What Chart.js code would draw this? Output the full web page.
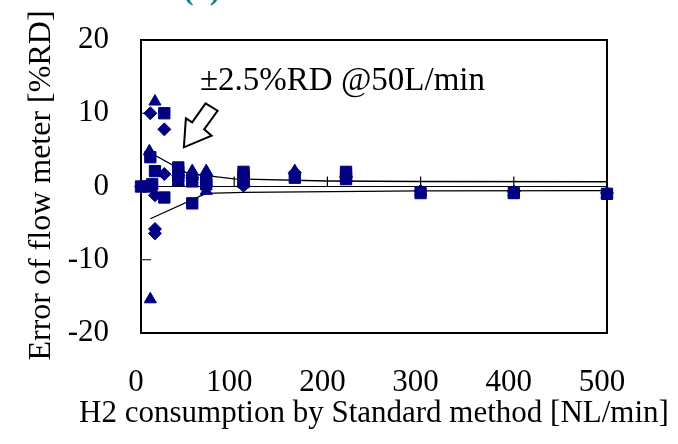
<!DOCTYPE html>
<html>
<head>
<meta charset="utf-8">
<script src="https://cdn.jsdelivr.net/npm/chart.js@4.4.0/dist/chart.umd.min.js"></script>
<style>
  html, body { margin: 0; padding: 0; background: #fff; }
  canvas { display: block; }
</style>
</head>
<body>
<canvas id="errorChart" width="678" height="444"></canvas>
<script>
// Error of flow meter vs. H2 consumption (standard method)

const xTicks = [0, 100, 200, 300, 400, 500];
const yTicks = [-20, -10, 0, 10, 20];

// diamond markers
const diamondX = [0, 10, 25, 25, 15, 15, 15, 40, 55, 70, 70, 110, 165, 220, 300, 400, 500];
const diamondY = [0, 10.0, 7.8, 1.7, -1.2, -5.8, -6.4, 1.5, 1.2, 1.5, 0.0, 0.1, 1.9, 1.3, -0.6, -0.7, -0.9];

// square markers
const squareX = [0, 8, 12, 10, 15, 25, 25, 40, 40, 40, 40, 55, 55, 70, 70, 110, 110, 110, 110, 165, 220, 220, 220, 300, 400, 500];
const squareY = [0, 0, 0.3, 4.0, 2.1, 10.0, -1.5, 2.6, 2.0, 1.4, 0.9, 0.8, -2.3, 0.8, 0.3, 2.0, 1.5, 1.0, 0.6, 1.2, 2.0, 1.5, 1.0, -0.9, -0.9, -1.0];

// triangle markers
const triangleX = [15, 9, 10, 40, 55, 55, 55, 70, 70, 70, 110, 165, 220, 300, 400, 500];
const triangleY = [11.6, 4.8, -15.4, 0.6, 2.1, 1.4, 0.4, 2.1, 1.0, -0.6, 1.0, 2.1, 1.3, -0.7, -0.8, -1.1];

// accuracy envelope
const upperX = [10, 50, 100, 200, 300, 500];
const upperY = [4.6, 1.8, 1.05, 0.75, 0.68, 0.65];
const lowerX = [10, 70, 110, 300, 500];
const lowerY = [-4.4, -0.95, -0.8, -0.6, -0.57];

const navy = '#000080';
const serif = "'Liberation Serif', 'Times New Roman', serif";

function toPoints(xs, ys) {
  return xs.map((x, i) => ({ x: x, y: ys[i] }));
}

function markerSet(xs, ys, style, radius) {
  return {
    data: toPoints(xs, ys),
    pointStyle: style,
    pointRadius: radius,
    backgroundColor: navy,
    borderColor: navy,
    borderWidth: 1,
    showLine: false,
    clip: false,
    order: 0
  };
}

function envelope(xs, ys) {
  return {
    data: toPoints(xs, ys),
    showLine: true,
    borderColor: '#000',
    borderWidth: 1.3,
    pointRadius: 0,
    fill: false,
    tension: 0,
    order: 1
  };
}

const framePlugin = {
  id: 'frame',
  beforeDatasetsDraw(chart) {
    const ctx = chart.ctx;
    const a = chart.chartArea;
    const xs = chart.scales.x, ys = chart.scales.y;
    const y0 = ys.getPixelForValue(0);
    ctx.save();
    ctx.strokeStyle = '#000';
    ctx.lineWidth = 2;
    ctx.strokeRect(a.left, a.top, a.right - a.left, a.bottom - a.top);
    ctx.lineWidth = 1.2;
    ctx.beginPath();
    ctx.moveTo(a.left, y0);
    ctx.lineTo(a.right, y0);
    xTicks.forEach(v => {
      const px = xs.getPixelForValue(v);
      ctx.moveTo(px, y0);
      ctx.lineTo(px, y0 - 10);
    });
    yTicks.forEach(v => {
      const py = ys.getPixelForValue(v);
      ctx.moveTo(a.left, py);
      ctx.lineTo(a.left + 10, py);
    });
    ctx.stroke();
    ctx.restore();
  },
  afterDraw(chart) {
    const ctx = chart.ctx;
    const a = chart.chartArea;
    const xs = chart.scales.x, ys = chart.scales.y;
    ctx.save();
    ctx.fillStyle = '#000';

    // axis titles
    ctx.font = '31px ' + serif;
    ctx.textAlign = 'center';
    ctx.textBaseline = 'alphabetic';
    ctx.fillText('H2 consumption by Standard method [NL/min]', (a.left + a.right) / 2, 422);

    ctx.save();
    ctx.translate(50, (a.top + a.bottom) / 2 - 1);
    ctx.rotate(-Math.PI / 2);
    ctx.font = '32px ' + serif;
    ctx.fillText('Error of flow meter [%RD]', 0, 0);
    ctx.restore();

    // annotation
    ctx.textAlign = 'left';
    ctx.font = '33px ' + serif;
    ctx.fillText('\u00b12.5%RD @50L/min', 200, 90);

    // hollow arrow
    const tx = xs.getPixelForValue(46), ty = ys.getPixelForValue(5.35);
    const shape = [[21.7, -44], [33.7, -36.6], [20.3, -18], [27.7, -11.6], [0, 0], [2, -29], [8.3, -25]];
    ctx.beginPath();
    shape.forEach((p, i) => {
      if (i === 0) ctx.moveTo(tx + p[0], ty + p[1]);
      else ctx.lineTo(tx + p[0], ty + p[1]);
    });
    ctx.closePath();
    ctx.fillStyle = '#fff';
    ctx.fill();
    ctx.lineWidth = 2;
    ctx.lineJoin = 'miter';
    ctx.strokeStyle = '#000';
    ctx.stroke();

    // panel label, cut off at the top edge
    ctx.fillStyle = '#1a7f7f';
    ctx.font = 'bold 32px ' + serif;
    ctx.fillText('(a)', 183, -1.5);
    ctx.restore();
  }
};

const tickFont = { family: serif, size: 31 };

new Chart(document.getElementById('errorChart'), {
  type: 'scatter',
  data: {
    datasets: [
      markerSet(diamondX, diamondY, 'rectRot', 6.5),
      markerSet(squareX, squareY, 'rect', 8),
      markerSet(triangleX, triangleY, 'triangle', 7),
      envelope(upperX, upperY),
      envelope(lowerX, lowerY)
    ]
  },
  options: {
    responsive: false,
    animation: false,
    devicePixelRatio: 1,
    layout: { padding: { top: 40, right: 71, left: 0, bottom: 0 } },
    plugins: { legend: { display: false }, tooltip: { enabled: false } },
    scales: {
      x: {
        type: 'linear',
        min: 0,
        max: 500,
        afterBuildTicks: s => { s.ticks = xTicks.map(v => ({ value: v })); },
        ticks: { color: '#000', font: tickFont, padding: 31, labelOffset: -5, maxRotation: 0 },
        grid: { display: false, drawTicks: false },
        border: { display: false },
        afterFit: s => { s.height = 111; s.paddingLeft = 0; s.paddingRight = 0; }
      },
      y: {
        min: -20,
        max: 20,
        afterBuildTicks: s => { s.ticks = yTicks.map(v => ({ value: v })); },
        ticks: { color: '#000', font: tickFont, padding: 32 },
        grid: { display: false, drawTicks: false },
        border: { display: false },
        afterFit: s => { s.width = 141; s.paddingTop = 0; s.paddingBottom = 0; }
      }
    }
  },
  plugins: [framePlugin]
});
</script>
</body>
</html>
